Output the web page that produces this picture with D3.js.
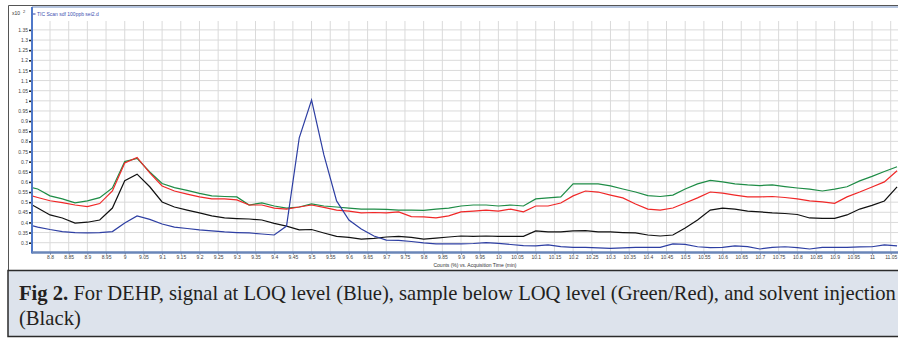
<!DOCTYPE html>
<html>
<head>
<meta charset="utf-8">
<script src="https://cdn.jsdelivr.net/npm/d3@7"></script>
<style>
body { margin: 0; background: #fff; }
svg { display: block; }
</style>
</head>
<body>
<div id="chart"></div>
<script>
// acquisition time (min), one scan every 2 s
var times = [8.733, 8.767, 8.8, 8.833, 8.867, 8.9, 8.933, 8.967, 9, 9.033, 9.067, 9.1, 9.133, 9.167, 9.2, 9.233, 9.267, 9.3, 9.333, 9.367,
  9.4, 9.433, 9.467, 9.5, 9.533, 9.567, 9.6, 9.633, 9.667, 9.7, 9.733, 9.767, 9.8, 9.833, 9.867, 9.9, 9.933, 9.967, 10, 10.033,
  10.067, 10.1, 10.133, 10.167, 10.2, 10.233, 10.267, 10.3, 10.333, 10.367, 10.4, 10.433, 10.467, 10.5, 10.533, 10.567, 10.6, 10.633, 10.667, 10.7,
  10.733, 10.767, 10.8, 10.833, 10.867, 10.9, 10.933, 10.967, 11, 11.033, 11.067];

// counts (x10^2)
var blueLOQ = [0.393, 0.377, 0.365, 0.355, 0.350, 0.348, 0.350, 0.355, 0.397, 0.432, 0.415, 0.392, 0.377, 0.370, 0.363, 0.358, 0.353, 0.350, 0.348, 0.343,
  0.338, 0.382, 0.817, 1.004, 0.733, 0.506, 0.412, 0.368, 0.333, 0.313, 0.311, 0.306, 0.299, 0.294, 0.294, 0.294, 0.296, 0.300, 0.297, 0.291,
  0.286, 0.284, 0.289, 0.281, 0.277, 0.277, 0.274, 0.272, 0.274, 0.277, 0.277, 0.277, 0.294, 0.292, 0.280, 0.276, 0.277, 0.284, 0.281, 0.269,
  0.277, 0.280, 0.276, 0.269, 0.277, 0.277, 0.277, 0.279, 0.280, 0.289, 0.284];

var greenSample = [0.580, 0.565, 0.531, 0.516, 0.497, 0.506, 0.522, 0.570, 0.700, 0.716, 0.649, 0.592, 0.572, 0.558, 0.543, 0.531, 0.528, 0.526, 0.486, 0.496,
  0.481, 0.471, 0.476, 0.491, 0.481, 0.476, 0.471, 0.466, 0.466, 0.464, 0.461, 0.461, 0.459, 0.466, 0.471, 0.481, 0.486, 0.486, 0.481, 0.486,
  0.481, 0.516, 0.521, 0.526, 0.590, 0.590, 0.590, 0.580, 0.565, 0.550, 0.532, 0.528, 0.535, 0.565, 0.590, 0.607, 0.600, 0.590, 0.585, 0.582,
  0.585, 0.577, 0.570, 0.564, 0.555, 0.564, 0.576, 0.605, 0.627, 0.651, 0.675];

var redSample = [0.540, 0.523, 0.507, 0.498, 0.486, 0.478, 0.493, 0.555, 0.693, 0.721, 0.644, 0.580, 0.555, 0.540, 0.526, 0.516, 0.516, 0.511, 0.486, 0.486,
  0.471, 0.466, 0.476, 0.486, 0.474, 0.461, 0.456, 0.447, 0.449, 0.447, 0.452, 0.429, 0.427, 0.422, 0.432, 0.452, 0.456, 0.461, 0.456, 0.466,
  0.452, 0.481, 0.481, 0.496, 0.531, 0.555, 0.550, 0.535, 0.521, 0.491, 0.466, 0.461, 0.471, 0.496, 0.521, 0.550, 0.545, 0.535, 0.526, 0.526,
  0.528, 0.523, 0.516, 0.506, 0.501, 0.494, 0.526, 0.550, 0.575, 0.600, 0.655];

var blackSolvent = [0.506, 0.471, 0.437, 0.422, 0.397, 0.401, 0.412, 0.471, 0.606, 0.638, 0.576, 0.501, 0.476, 0.461, 0.447, 0.432, 0.422, 0.419, 0.417, 0.412,
  0.395, 0.382, 0.363, 0.365, 0.348, 0.331, 0.326, 0.318, 0.321, 0.328, 0.331, 0.326, 0.318, 0.323, 0.328, 0.333, 0.331, 0.333, 0.331, 0.331,
  0.331, 0.358, 0.353, 0.353, 0.358, 0.360, 0.353, 0.353, 0.350, 0.348, 0.338, 0.333, 0.338, 0.373, 0.412, 0.461, 0.471, 0.466, 0.456, 0.452,
  0.447, 0.444, 0.439, 0.422, 0.420, 0.420, 0.437, 0.466, 0.484, 0.506, 0.575];

var xTicks = [8.8, 8.85, 8.9, 8.95, 9, 9.05, 9.1, 9.15, 9.2, 9.25, 9.3, 9.35, 9.4, 9.45, 9.5, 9.55, 9.6, 9.65, 9.7, 9.75,
  9.8, 9.85, 9.9, 9.95, 10, 10.05, 10.1, 10.15, 10.2, 10.25, 10.3, 10.35, 10.4, 10.45, 10.5, 10.55, 10.6, 10.65, 10.7, 10.75,
  10.8, 10.85, 10.9, 10.95, 11, 11.05];
var yTicks = [0.3, 0.35, 0.4, 0.45, 0.5, 0.55, 0.6, 0.65, 0.7, 0.75, 0.8, 0.85, 0.9, 0.95, 1, 1.05, 1.1, 1.15, 1.2, 1.25, 1.3, 1.35];

var seriesNames = ["green", "red", "black", "blue"];
var seriesColors = ["#1e8c46", "#f02828", "#111111", "#2e3fa3"];
var seriesValues = [greenSample, redSample, blackSolvent, blueLOQ];

var legendText = "TIC Scan sdf 100ppb sei2.d";
var axisTitle = "Counts (%) vs. Acquisition Time (min)";
var captionBold = "Fig 2.";
var captionLine1 = " For DEHP, signal at LOQ level (Blue), sample below LOQ level (Green/Red), and solvent injection";
var captionLine2 = "(Black)";

var W = 898, H = 338;
var plotLeft = 32, plotRight = 898, plotTop = 7, plotBottom = 252.5;

var svg = d3.select("#chart").append("svg")
  .attr("width", W)
  .attr("height", H)
  .style("font-family", "'Liberation Sans', Arial, sans-serif");

// outer frame of the chart panel
svg.append("path")
  .attr("d", "M8.5," + 270 + "V5.5H" + W)
  .attr("fill", "none")
  .attr("stroke", "#555")
  .attr("stroke-width", 1);

var x = d3.scaleLinear().domain([8.7518, 11.0695]).range([plotLeft, plotRight]);
var y = d3.scaleLinear().domain([0.2516, 1.463]).range([plotBottom, plotTop]);

// grid
svg.append("g").selectAll("line").data(xTicks).enter().append("line")
  .attr("x1", function (d) { return x(d); })
  .attr("x2", function (d) { return x(d); })
  .attr("y1", plotTop + 14)
  .attr("y2", plotBottom)
  .attr("stroke", "#dadada")
  .attr("stroke-width", 1);

svg.append("g").selectAll("line").data(yTicks).enter().append("line")
  .attr("x1", plotLeft)
  .attr("x2", plotRight)
  .attr("y1", function (d) { return y(d); })
  .attr("y2", function (d) { return y(d); })
  .attr("stroke", "#dadada")
  .attr("stroke-width", 1);

// lines
svg.append("clipPath").attr("id", "clip")
  .append("rect")
  .attr("x", plotLeft).attr("y", plotTop)
  .attr("width", plotRight - plotLeft).attr("height", plotBottom - plotTop);

var line = d3.line()
  .x(function (d, i) { return x(times[i]); })
  .y(function (d) { return y(d); });

svg.append("g").attr("clip-path", "url(#clip)")
  .selectAll("path").data(seriesValues).enter().append("path")
  .attr("d", line)
  .attr("fill", "none")
  .attr("stroke", function (d, i) { return seriesColors[i]; })
  .attr("stroke-width", 1.2);

// y axis
var yAxis = svg.append("g")
  .attr("transform", "translate(" + plotLeft + ",0)")
  .call(d3.axisLeft(y).tickValues(yTicks).tickSize(3).tickPadding(1).tickFormat(d3.format("")));
yAxis.select(".domain").remove();
yAxis.selectAll(".tick line").attr("stroke", "#222").attr("stroke-width", 1.6);
yAxis.selectAll("text").style("font-size", "5px").attr("fill", "#444");

// x axis
var xAxis = svg.append("g")
  .attr("transform", "translate(0," + plotBottom + ")")
  .call(d3.axisBottom(x).tickValues(xTicks).tickSize(2).tickPadding(1).tickFormat(d3.format("")));
xAxis.select(".domain").remove();
xAxis.selectAll(".tick line").attr("stroke", "#444").attr("stroke-width", 0.8);
xAxis.selectAll("text").style("font-size", "5px").attr("fill", "#444");

// axis frame lines
svg.append("line")
  .attr("x1", plotLeft).attr("x2", plotRight)
  .attr("y1", plotTop).attr("y2", plotTop)
  .attr("stroke", "#6f8cc0").attr("stroke-width", 1.2);
svg.append("line")
  .attr("x1", plotLeft).attr("x2", plotLeft)
  .attr("y1", plotTop).attr("y2", plotBottom + 1)
  .attr("stroke", "#4f78c8").attr("stroke-width", 2);
svg.append("line")
  .attr("x1", plotLeft).attr("x2", plotRight)
  .attr("y1", plotBottom).attr("y2", plotBottom)
  .attr("stroke", "#6a86b8").attr("stroke-width", 2.4);

// scale label x10^2
var sc = svg.append("text").attr("x", 12).attr("y", 15).style("font-size", "5px").attr("fill", "#333");
sc.append("tspan").text("x10");
sc.append("tspan").attr("dx", 3).attr("dy", -2).style("font-size", "4px").text("2");

// legend
svg.append("line")
  .attr("x1", 33).attr("x2", 35.5)
  .attr("y1", 14).attr("y2", 14)
  .attr("stroke", "#2e3fa3").attr("stroke-width", 1);
svg.append("text")
  .attr("x", 37).attr("y", 15.8)
  .style("font-size", "5px")
  .attr("fill", "#3d4fb0")
  .text(legendText);

// axis title
svg.append("text")
  .attr("x", 475).attr("y", 267)
  .attr("text-anchor", "middle")
  .style("font-size", "5px")
  .attr("fill", "#333")
  .text(axisTitle);

// caption box
svg.append("rect")
  .attr("x", 8).attr("y", 270.5)
  .attr("width", W).attr("height", 66)
  .attr("fill", "#dde3ec")
  .attr("stroke", "#2b2b2b")
  .attr("stroke-width", 1.5);

var serif = "'Liberation Serif', 'DejaVu Serif', serif";
var cap = svg.append("text")
  .attr("x", 19).attr("y", 300)
  .style("font-family", serif)
  .style("font-size", "17px")
  .attr("fill", "#231f20");
cap.append("tspan").style("font-weight", "bold").text(captionBold);
cap.append("tspan").text(captionLine1);

// caption runs from x=19 to the right edge in the figure
var capFont = 17 * 877 / cap.node().getComputedTextLength();
cap.style("font-size", capFont + "px");

svg.append("text")
  .attr("x", 19).attr("y", 325)
  .style("font-family", serif)
  .style("font-size", capFont + "px")
  .attr("fill", "#231f20")
  .text(captionLine2);
</script>
</body>
</html>
